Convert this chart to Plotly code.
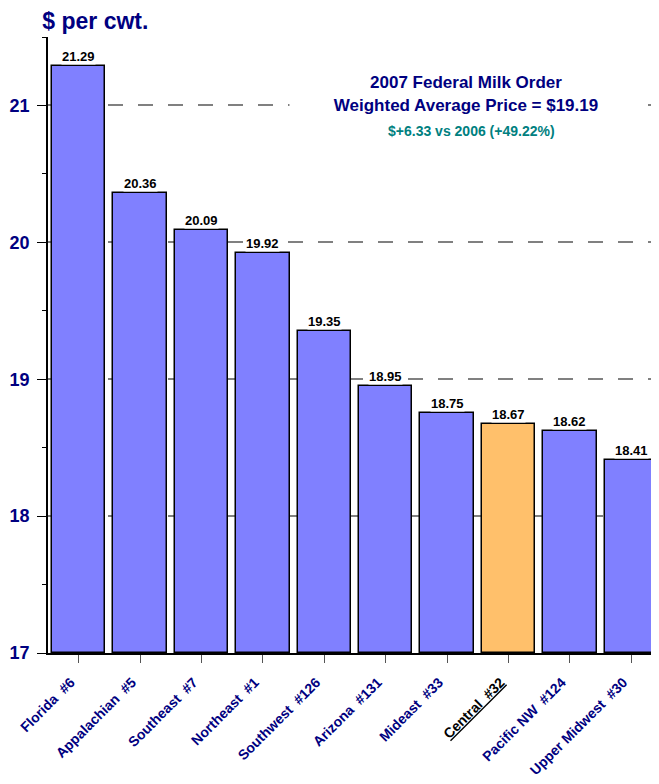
import plotly.graph_objects as go

# values
regions = ['Florida #6', 'Appalachian #5', 'Southeast #7', 'Northeast #1',
           'Southwest #126', 'Arizona #131', 'Mideast #33', 'Central #32',
           'Pacific NW #124', 'Upper Midwest #30']
prices = [21.29, 20.36, 20.09, 19.92, 19.35, 18.95, 18.75, 18.67, 18.62, 18.41]
highlight = 'Central #32'
y_ticks = [17, 18, 19, 20, 21]

NAVY = '#000080'
FONT = 'Arial, Liberation Sans, sans-serif'

bar_colors = ['#FFC06B' if r == highlight else '#8080FF' for r in regions]
tick_text = [f"<span style='color:black'><u>{r.replace(' ', '&nbsp;&nbsp;')}</u></span>"
             if r == highlight else r.replace(' #', '&nbsp;&nbsp;#')
             for r in regions]

fig = go.Figure()
fig.add_trace(go.Bar(x=regions, y=[p - 17 for p in prices], base=17,
                     marker=dict(color=bar_colors,
                                 line=dict(color='black', width=1.5)),
                     width=0.87, hoverinfo='skip'))

# value labels with a white background so the dashed grid stops at them
for r, p in zip(regions, prices):
    fig.add_annotation(x=r, y=p, text=f'<b>{p:.2f}</b>', showarrow=False,
                       yanchor='bottom', yshift=1, bgcolor='white',
                       borderpad=0,
                       font=dict(family=FONT, size=13, color='black'))

# text box in the upper right
fig.add_annotation(xref='paper', yref='paper', x=0.681, y=0.908,
                   xanchor='center', yanchor='middle',
                   text='2007 Federal Milk Order<br>Weighted Average Price = $19.19',
                   showarrow=False, bgcolor='white', width=350, height=50,
                   align='center',
                   font=dict(family=FONT, size=17, color=NAVY, weight='bold'))
fig.add_annotation(xref='paper', yref='paper', x=0.689, y=0.847,
                   xanchor='center', yanchor='middle',
                   text='$+6.33 vs 2006 (+49.22%)', showarrow=False,
                   font=dict(family=FONT, size=14, color='#008080', weight='bold'))

fig.update_layout(
    width=659, height=784,
    margin=dict(l=40, r=5, t=29, b=139),
    plot_bgcolor='white', paper_bgcolor='white',
    showlegend=False, bargap=0,
    title=dict(text='$ per cwt.', x=0.052, xanchor='left', xref='container',
               y=0.984, yanchor='middle',
               font=dict(family=FONT, size=23, color=NAVY, weight='bold')),
    font=dict(family=FONT),
)
fig.update_yaxes(range=[17, 21.5], tickvals=y_ticks, automargin=False,
                 showline=True, linecolor='black', linewidth=1.5,
                 ticks='outside', ticklen=9, tickcolor='black', tickwidth=1,
                 minor=dict(dtick=0.5, ticks='outside', ticklen=4,
                            tickcolor='black', showgrid=False),
                 showgrid=True, gridcolor='#808080', gridwidth=1.5,
                 griddash='15px,15px', zeroline=False,
                 tickfont=dict(family=FONT, size=18, color=NAVY, weight='bold'),
                 ticklabelstandoff=4)
fig.update_xaxes(range=[-0.5, 9.5], tickvals=regions, ticktext=tick_text,
                 automargin=False,
                 tickangle=-45, showline=True, linecolor='black', linewidth=1.5,
                 ticks='outside', ticklen=8, tickcolor='#555555',
                 showgrid=False, ticklabelshift=-8, ticklabelstandoff=6,
                 tickfont=dict(family=FONT, size=14, color=NAVY, weight='bold'))

fig.write_html('out.html')
